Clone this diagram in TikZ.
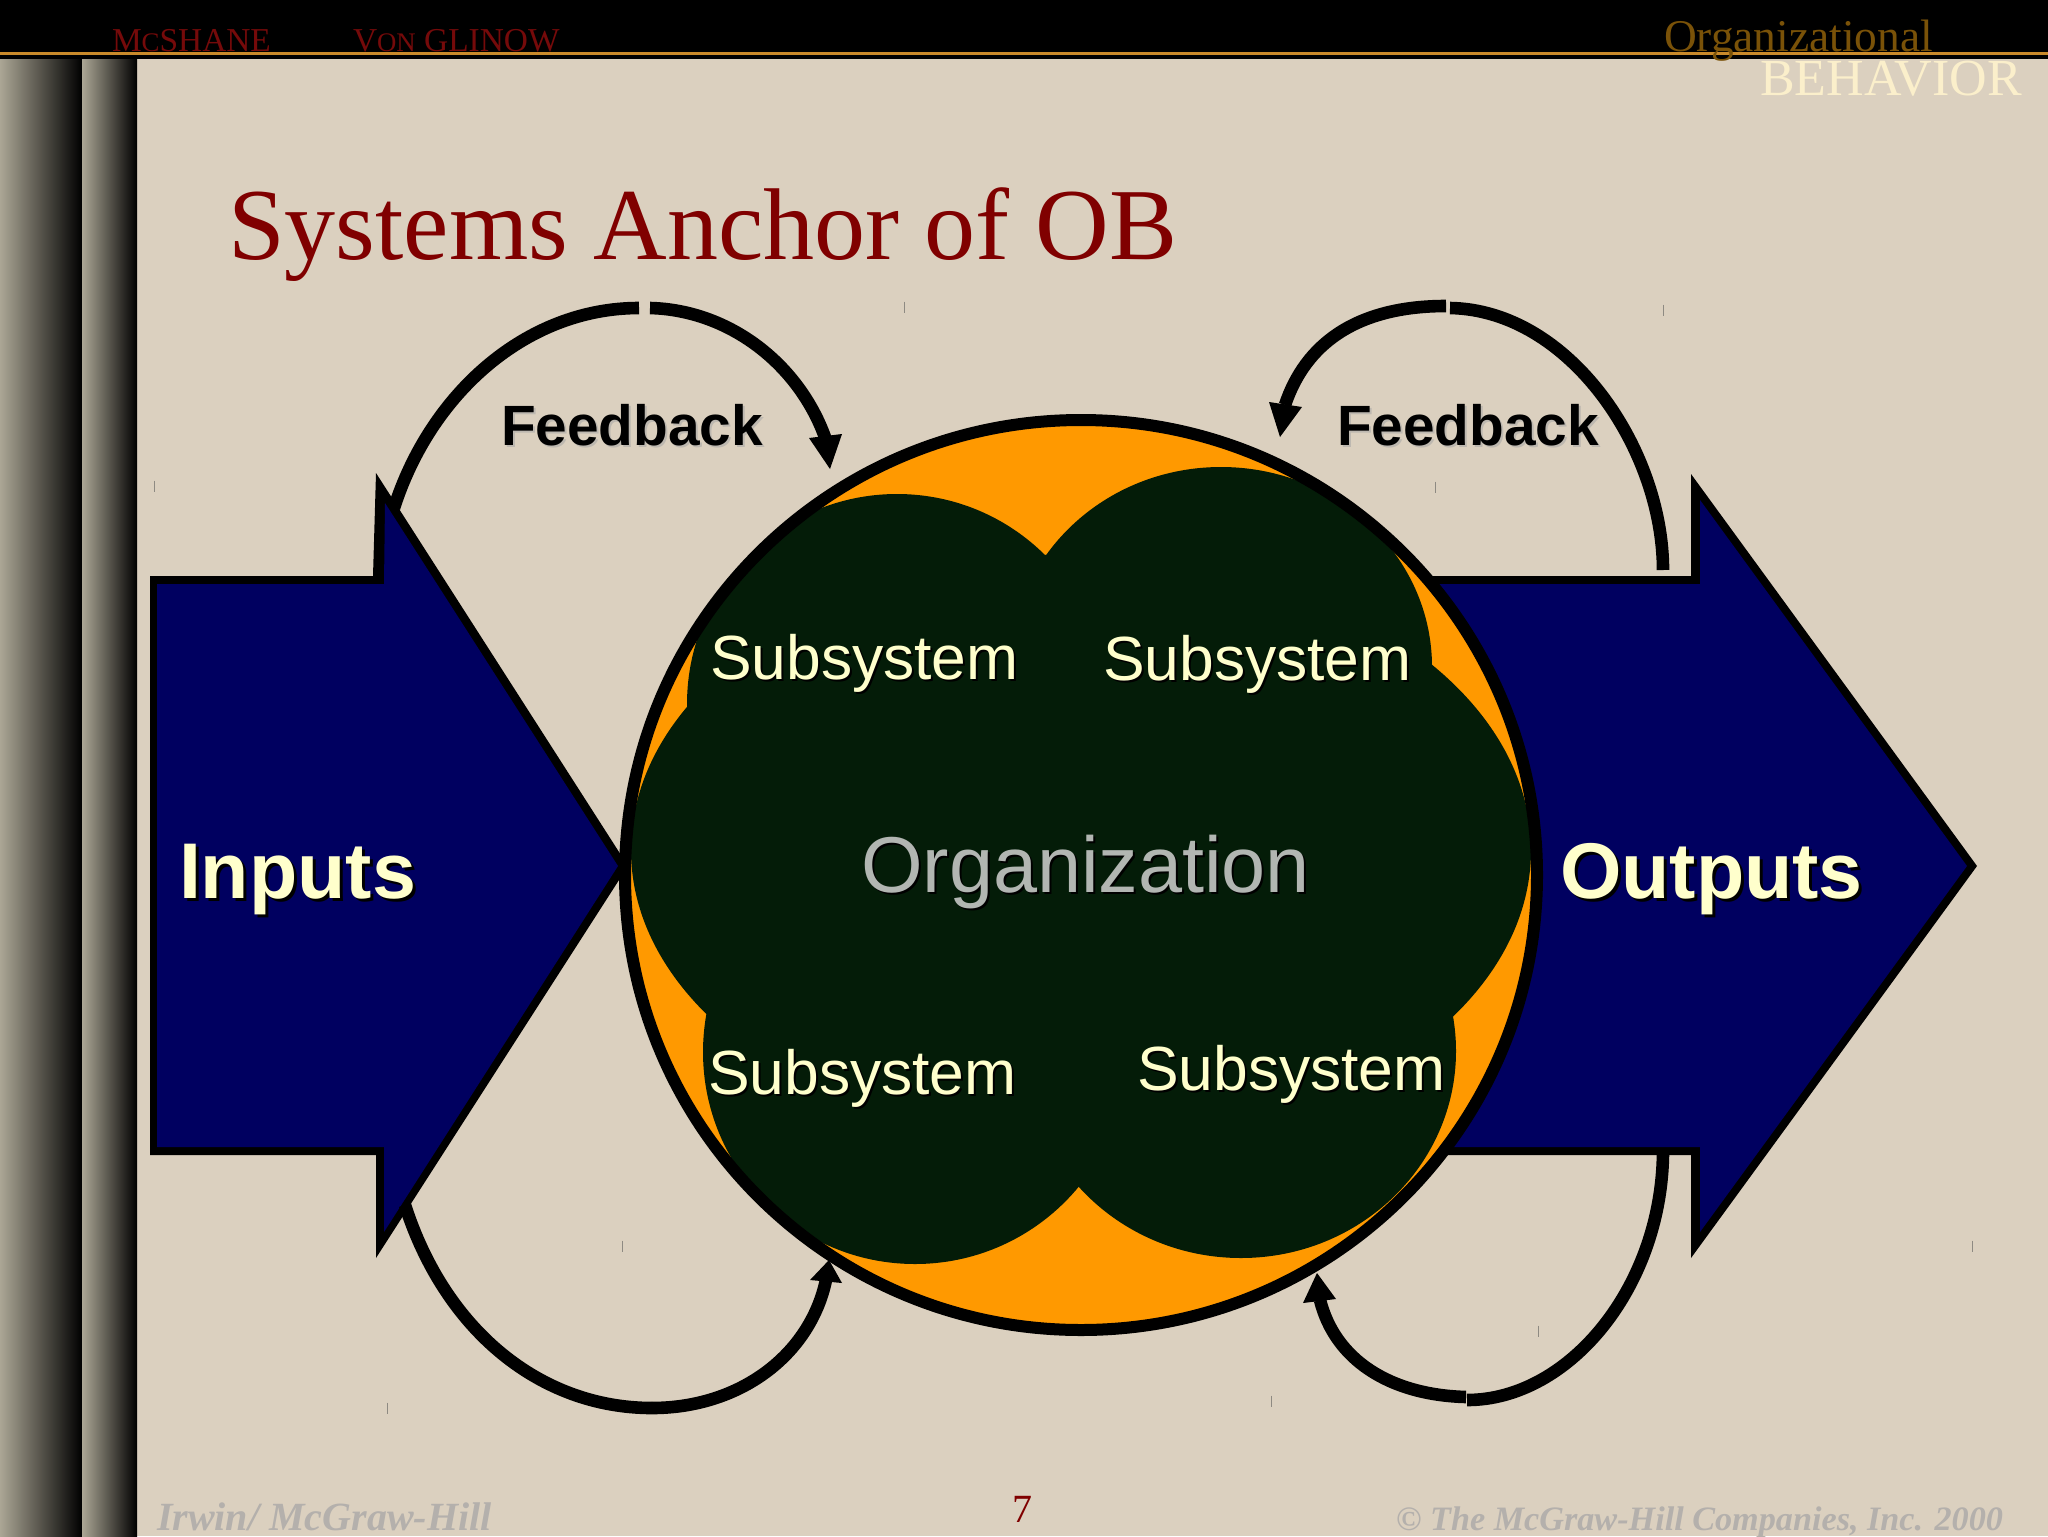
\documentclass[tikz,border=0pt]{standalone}
\usepackage{fontspec}
\setmainfont{Liberation Serif}
\newfontfamily\arialf{Liberation Sans}
\definecolor{paper}{HTML}{DBD0BF}
\definecolor{stripe}{HTML}{ABA695}
\definecolor{navyfill}{HTML}{000060}
\definecolor{orangefill}{HTML}{FF9900}
\definecolor{darkfill}{HTML}{041C08}
\definecolor{ruleline}{HTML}{C98A2B}
\definecolor{titlered}{HTML}{800000}
\definecolor{headred}{HTML}{750A0A}
\definecolor{headbrown}{HTML}{7A5208}
\definecolor{headcream}{HTML}{FBEFCB}
\definecolor{cream}{HTML}{FFFFCC}
\definecolor{orgray}{HTML}{B2B6B2}
\definecolor{footgray}{HTML}{B4B0AC}
\definecolor{softshadow}{HTML}{BDB8B0}
\definecolor{tickgray}{HTML}{8E8A82}
\newcommand{\fsz}[1]{\fontsize{#1pt}{#1pt}\selectfont}
\newcommand{\shtext}[3]{\makebox[0pt][l]{\raisebox{-#2pt}{\kern#2pt\textcolor{#1}{#3}}}#3}
\newcommand{\smcap}[1]{{\fsz{13.4}#1}}
\tikzset{
  txt/.style={inner sep=0pt,outer sep=0pt,anchor=base west},
  arcline/.style={draw=black,line width=6.3pt,line cap=butt},
  headfill/.style={fill=black},
  tickmark/.style={draw=tickgray,line width=0.5pt},
  subsys/.style={txt,text=cream,font={\arialf\fsz{31.2}}},
  fback/.style={txt,text=black,font={\arialf\bfseries\fsz{28.4}}},
  inout/.style={txt,text=cream,font={\arialf\bfseries\fsz{39.5}}},
  foot/.style={txt,text=footgray,font={\itshape\bfseries\fsz{20}}},
}
\begin{document}
\begin{tikzpicture}[x=0.5pt,y=-0.5pt]
\useasboundingbox (0,0) rectangle (2048,1536);
\fill[paper] (0,0) rectangle (2048,1536);
% left stripes
\shade[left color=stripe,right color=black] (0,55) rectangle (82,1536);
\shade[left color=stripe,right color=black] (82,59) rectangle (137,1536);
% top band
\fill[black] (0,0) rectangle (2048,59);
\fill[ruleline] (0,52.5) rectangle (2048,55.5);
% ticks
\foreach \tx/\ty in {904/307,1663/310,154/486,1435/487,622/1246,1972/1246,1538/1331,1271/1401,387/1408}
  \draw[tickmark] (\tx,\ty-5.5) -- (\tx,\ty+5.5);
% right arrow
\fill[black] (1300,576) -- (1691,576) -- (1691,474) -- (1977,866) -- (1691,1258) -- (1691,1155) -- (1300,1155) -- cycle;
\fill[navyfill] (1300,584) -- (1700,584) -- (1700,500) -- (1967,866) -- (1700,1232) -- (1700,1147) -- (1300,1147) -- cycle;
% left arrow
\fill[black] (150,576) -- (373,576) -- (376,473) -- (628,866) -- (376,1258) -- (376,1155) -- (150,1155) -- cycle;
\fill[navyfill] (157,584) -- (384,584) -- (385,503) -- (618,866) -- (384,1232) -- (384,1147) -- (157,1147) -- cycle;
% organization circle
\fill[orangefill] (1081,875) ellipse [x radius=456,y radius=455];
\begin{scope}
  \clip (1081,875) ellipse [x radius=456,y radius=455];
  \fill[darkfill] (1081,850) ellipse [x radius=450,y radius=296];
  \fill[darkfill] (897,704) ellipse [x radius=210,y radius=210];
  \fill[darkfill] (1221,667) ellipse [x radius=211,y radius=200];
  \fill[darkfill] (915,1052) ellipse [x radius=212,y radius=212];
  \fill[darkfill] (1241,1051) ellipse [x radius=215,y radius=207];
\end{scope}
\draw[black,line width=6pt] (1081,875) ellipse [x radius=456,y radius=455];
% feedback arcs
\coordinate (a0) at (394,508); \coordinate (a1) at (639,308);
\coordinate (a2) at (650,308); \coordinate (a3) at (826,440);
\coordinate (ah1) at (809,438); \coordinate (ah2) at (842,434); \coordinate (ah3) at (830,469);
\draw[arcline] (a0) .. controls (430,395) and (525,308) .. (a1);
\draw[arcline] (a2) .. controls (730,310) and (800,365) .. (a3);
\fill[headfill] (ah1) -- (ah2) -- (ah3) -- cycle;
\coordinate (b0) at (1663,570); \coordinate (b1) at (1450,308);
\coordinate (b2) at (1446,306); \coordinate (b3) at (1285,405);
\coordinate (bh1) at (1269,402); \coordinate (bh2) at (1302,407); \coordinate (bh3) at (1280,437);
\draw[arcline] (b0) .. controls (1663,450) and (1570,310) .. (b1);
\draw[arcline] (b2) .. controls (1355,306) and (1305,345) .. (b3);
\fill[headfill] (bh1) -- (bh2) -- (bh3) -- cycle;
\coordinate (c0) at (405,1205); \coordinate (c1) at (652,1408);
\coordinate (c2) at (826,1280);
\coordinate (ch1) at (810,1280); \coordinate (ch2) at (842,1283); \coordinate (ch3) at (829,1260);
\draw[arcline] (c0) .. controls (445,1330) and (540,1408) .. (c1);
\draw[arcline] (c1) .. controls (740,1408) and (810,1355) .. (c2);
\fill[headfill] (ch1) -- (ch2) -- (ch3) -- cycle;
\coordinate (d0) at (1663,1150); \coordinate (d1) at (1467,1400);
\coordinate (d2) at (1466,1397); \coordinate (d3) at (1320,1300);
\coordinate (dh1) at (1303,1303); \coordinate (dh2) at (1336,1299); \coordinate (dh3) at (1317,1273);
\draw[arcline] (d0) .. controls (1663,1285) and (1570,1400) .. (d1);
\draw[arcline] (d2) .. controls (1390,1395) and (1335,1360) .. (d3);
\fill[headfill] (dh1) -- (dh2) -- (dh3) -- cycle;
% header text
\node[txt,text=headred,font=\fsz{16.7}] (hname1) at (112,52) {M\smcap{C}SHANE};
\node[txt,text=headred,font=\fsz{16.7}] (hname2) at (353,52) {V\smcap{ON} GLINOW};
\node[txt,text=headbrown,font=\fsz{22.7}] (horg) at (1664,52) {Organizational};
\node[txt,text=headcream,font=\fsz{26}] (hbeh) at (1760,96) {BEHAVIOR};
% title
\node[txt,text=titlered,font=\fsz{51}] (title) at (228,259) {Systems Anchor of OB};
% labels
\node[fback] (fb1) at (501,445) {\shtext{softshadow}{1}{Feedback}};
\node[fback] (fb2) at (1337,445) {\shtext{softshadow}{1}{Feedback}};
\node[inout] (inp) at (179,898) {\shtext{black}{1.5}{Inputs}};
\node[inout] (outp) at (1560,898) {\shtext{black}{1.5}{Outputs}};
\node[subsys] (s1) at (710,679) {\shtext{black}{1}{Subsystem}};
\node[subsys] (s2) at (1103,680) {\shtext{black}{1}{Subsystem}};
\node[subsys] (s3) at (708,1094) {\shtext{black}{1}{Subsystem}};
\node[subsys] (s4) at (1137,1090) {\shtext{black}{1}{Subsystem}};
\node[txt,text=orgray,font={\arialf\fsz{39.6}}] (org) at (861,892) {\shtext{black}{1}{Organization}};
% footer
\node[foot] (f1) at (157,1530) {Irwin/ McGraw-Hill};
\node[txt,text=titlered,font=\fsz{20}] (pg) at (1012,1522) {7};
\node[foot,font={\itshape\bfseries\fsz{17.1}}] (f2) at (1396,1530) {© The McGraw-Hill Companies, Inc. 2000};
\end{tikzpicture}
\end{document}
